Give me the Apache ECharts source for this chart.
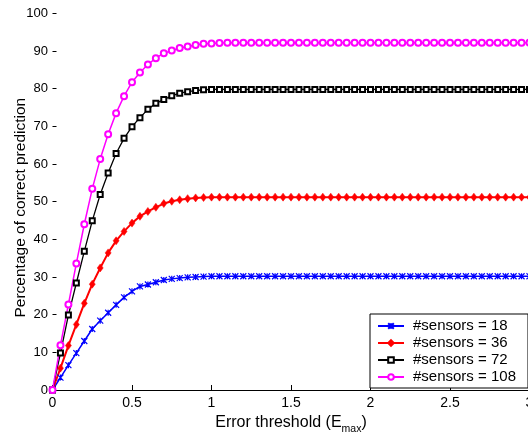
<!DOCTYPE html>
<html>
<head>
<meta charset="utf-8">
<script src="https://cdn.jsdelivr.net/npm/echarts@6/dist/echarts.min.js"></script>
<style>
  html, body { margin: 0; padding: 0; background: #fff; }
  #chart { width: 528px; height: 436px; }
</style>
</head>
<body>
<div id="chart"></div>
<script>
// Error threshold values (E_max)
const thresholds = [
  0, 0.05, 0.1, 0.15, 0.2, 0.25, 0.3, 0.35, 0.4, 0.45,
  0.5, 0.55, 0.6, 0.65, 0.7, 0.75, 0.8, 0.85, 0.9, 0.95,
  1, 1.05, 1.1, 1.15, 1.2, 1.25, 1.3, 1.35, 1.4, 1.45,
  1.5, 1.55, 1.6, 1.65, 1.7, 1.75, 1.8, 1.85, 1.9, 1.95,
  2, 2.05, 2.1, 2.15, 2.2, 2.25, 2.3, 2.35, 2.4, 2.45,
  2.5, 2.55, 2.6, 2.65, 2.7, 2.75, 2.8, 2.85, 2.9, 2.95,
  3
];

// Percentage of correct prediction for each sensor count
const sensors18 = [
  0, 3.3, 6.6, 9.8, 13.0, 16.2, 18.4, 20.5, 22.6, 24.6,
  26.2, 27.5, 28.0, 28.6, 29.2, 29.5, 29.7, 29.9, 30.0, 30.1,
  30.2, 30.2, 30.2, 30.2, 30.2, 30.2, 30.2, 30.2, 30.2, 30.2,
  30.2, 30.2, 30.2, 30.2, 30.2, 30.2, 30.2, 30.2, 30.2, 30.2,
  30.2, 30.2, 30.2, 30.2, 30.2, 30.2, 30.2, 30.2, 30.2, 30.2,
  30.2, 30.2, 30.2, 30.2, 30.2, 30.2, 30.2, 30.2, 30.2, 30.2,
  30.2
];
const sensors36 = [
  0, 5.8, 11.8, 17.4, 23.0, 28.1, 32.4, 36.4, 39.6, 42.1,
  44.3, 46.1, 47.4, 48.5, 49.5, 50.1, 50.5, 50.8, 51.0, 51.1,
  51.2, 51.2, 51.2, 51.2, 51.2, 51.2, 51.2, 51.2, 51.2, 51.2,
  51.2, 51.2, 51.2, 51.2, 51.2, 51.2, 51.2, 51.2, 51.2, 51.2,
  51.2, 51.2, 51.2, 51.2, 51.2, 51.2, 51.2, 51.2, 51.2, 51.2,
  51.2, 51.2, 51.2, 51.2, 51.2, 51.2, 51.2, 51.2, 51.2, 51.2,
  51.2
];
const sensors72 = [
  0, 9.8, 19.9, 28.4, 36.8, 44.9, 51.9, 57.6, 62.8, 66.8,
  69.9, 72.3, 74.5, 76.1, 77.1, 78.1, 78.8, 79.2, 79.5, 79.7,
  79.8, 79.8, 79.8, 79.8, 79.8, 79.8, 79.8, 79.8, 79.8, 79.8,
  79.8, 79.8, 79.8, 79.8, 79.8, 79.8, 79.8, 79.8, 79.8, 79.8,
  79.8, 79.8, 79.8, 79.8, 79.8, 79.8, 79.8, 79.8, 79.8, 79.8,
  79.8, 79.8, 79.8, 79.8, 79.8, 79.8, 79.8, 79.8, 79.8, 79.8,
  79.8
];
const sensors108 = [
  0, 11.9, 22.7, 33.6, 44.0, 53.4, 61.3, 67.9, 73.5, 78.0,
  81.7, 84.3, 86.4, 88.1, 89.4, 90.1, 90.8, 91.2, 91.6, 91.9,
  92.0, 92.1, 92.2, 92.2, 92.2, 92.2, 92.2, 92.2, 92.2, 92.2,
  92.2, 92.2, 92.2, 92.2, 92.2, 92.2, 92.2, 92.2, 92.2, 92.2,
  92.2, 92.2, 92.2, 92.2, 92.2, 92.2, 92.2, 92.2, 92.2, 92.2,
  92.2, 92.2, 92.2, 92.2, 92.2, 92.2, 92.2, 92.2, 92.2, 92.2,
  92.2
];

const seriesNames = ['#sensors = 18', '#sensors = 36', '#sensors = 72', '#sensors = 108'];

const FONT = 'Arial, "Liberation Sans", Helvetica, sans-serif';

function pairs(values) {
  return thresholds.map((x, i) => [x, values[i]]);
}

const chart = echarts.init(document.getElementById('chart'), null, { renderer: 'canvas' });

chart.setOption({
  animation: false,
  backgroundColor: '#fff',
  grid: {
    left: 52.5, right: -1.5, top: 13.3, bottom: 46,
    containLabel: false,
    outerBoundsMode: 'none'
  },
  xAxis: {
    type: 'value',
    min: 0, max: 3, interval: 0.5,
    name: '{t|Error threshold (E}{s|max}{t|)}',
    nameLocation: 'middle',
    nameGap: 21,
    nameMoveOverlap: false,
    nameTextStyle: {
      rich: {
        t: { fontSize: 16, fontFamily: FONT, color: '#000' },
        s: { fontSize: 10.5, fontFamily: FONT, color: '#000', verticalAlign: 'bottom', lineHeight: 24 }
      }
    },
    axisLine: { show: true, onZero: false, lineStyle: { color: '#000', width: 1 } },
    axisTick: { show: true, inside: true, length: 5, lineStyle: { color: '#000' } },
    axisLabel: { fontSize: 14, fontFamily: FONT, color: '#000', margin: 6 },
    splitLine: { show: false }
  },
  yAxis: {
    type: 'value',
    min: 0, max: 100, interval: 10,
    name: 'Percentage of correct prediction',
    nameLocation: 'middle',
    nameGap: 24,
    nameMoveOverlap: false,
    nameTextStyle: { fontSize: 15.5, fontFamily: FONT, color: '#000', padding: [0, 12, 0, 0] },
    axisLine: { show: false },
    axisTick: { show: true, inside: true, length: 4, lineStyle: { color: '#000' } },
    axisLabel: { fontSize: 13, fontFamily: FONT, color: '#000', margin: 4.5 },
    splitLine: { show: false }
  },
  legend: {
    data: seriesNames,
    orient: 'vertical',
    left: 370,
    top: 314,
    backgroundColor: '#fff',
    borderColor: '#000',
    borderWidth: 1,
    padding: [4.5, 12, 3.5, 7],
    itemWidth: 26,
    itemHeight: 7,
    itemGap: 2,
    textStyle: { fontSize: 15, fontFamily: FONT, color: '#000', padding: [0, 0, 0, 4] },
    z: 10
  },
  series: [
    {
      name: seriesNames[0],
      type: 'line',
      data: pairs(sensors18),
      symbol: 'path://M0,0L10,10M10,0L0,10M5,0L5,10',
      symbolSize: 6,
      showAllSymbol: true,
      lineStyle: { color: '#0000ff', width: 1.5 },
      itemStyle: { color: '#0000ff', borderColor: '#0000ff', borderWidth: 1.2 }
    },
    {
      name: seriesNames[1],
      type: 'line',
      data: pairs(sensors36),
      symbol: 'diamond',
      symbolSize: [6, 8],
      showAllSymbol: true,
      lineStyle: { color: '#ff0000', width: 2 },
      itemStyle: { color: '#ff0000', borderColor: '#ff0000', borderWidth: 0.5 }
    },
    {
      name: seriesNames[2],
      type: 'line',
      data: pairs(sensors72),
      symbol: 'emptyRect',
      symbolSize: 5,
      showAllSymbol: true,
      lineStyle: { color: '#000000', width: 1.3 },
      itemStyle: { color: '#000000', borderColor: '#000000', borderWidth: 1.3 }
    },
    {
      name: seriesNames[3],
      type: 'line',
      data: pairs(sensors108),
      symbol: 'emptyCircle',
      symbolSize: 6,
      showAllSymbol: true,
      lineStyle: { color: '#ff00ff', width: 1.5 },
      itemStyle: { color: '#ff00ff', borderColor: '#ff00ff', borderWidth: 1.3 }
    }
  ]
});
</script>
</body>
</html>
